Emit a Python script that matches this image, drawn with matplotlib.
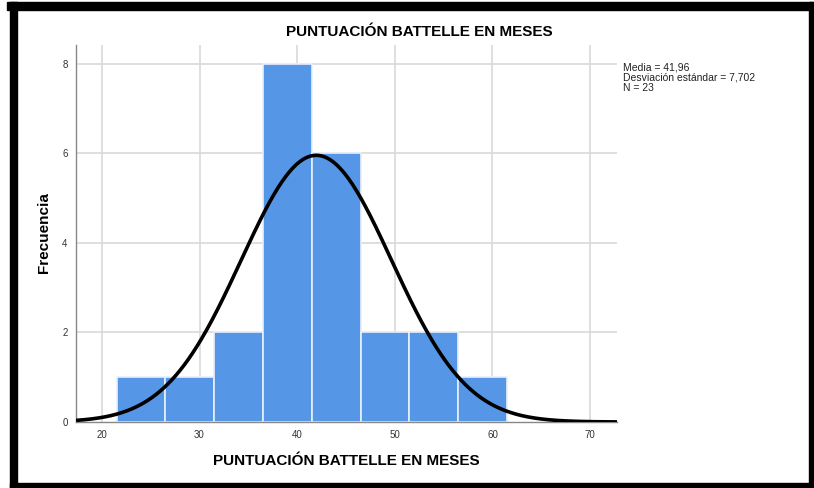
import numpy as np
import matplotlib
matplotlib.use("Agg")
import matplotlib.pyplot as plt
from matplotlib.patches import Rectangle

plt.rcParams['font.family'] = ['Liberation Sans', 'DejaVu Sans']

# Data
bin_edges_left = [21.5, 26.5, 31.5, 36.5, 41.5, 46.5, 51.5, 56.5]
bin_width = 5.0
counts = [1, 1, 2, 8, 6, 2, 2, 1]
mean = 41.96
sd = 7.702
n = 23
x_ticks = [20, 30, 40, 50, 60, 70]
y_ticks = [0, 2, 4, 6, 8]
title = "PUNTUACIÓN BATTELLE EN MESES"
xlabel = "PUNTUACIÓN BATTELLE EN MESES"
ylabel = "Frecuencia"
stats_text = "Media = 41,96\nDesviación estándar = 7,702\nN = 23"

fig = plt.figure(figsize=(8.14, 4.88), dpi=100)
W, H = 814, 488

def fx(px):
    return px / W

def fy(py):
    return 1 - py / H

# black frame
frame_col = "black"
fig.patches.append(Rectangle((fx(7), fy(10)), fx(814 - 7), 8 / H, transform=fig.transFigure,
                             color=frame_col, zorder=0))
fig.patches.append(Rectangle((fx(10), fy(488)), fx(7), fy(2) - fy(488), transform=fig.transFigure,
                             color=frame_col, zorder=0))
fig.patches.append(Rectangle((fx(10), fy(488)), fx(814 - 10), 5 / H, transform=fig.transFigure,
                             color=frame_col, zorder=0))
fig.patches.append(Rectangle((fx(809), fy(488)), fx(4), fy(2) - fy(488), transform=fig.transFigure,
                             color=frame_col, zorder=0))

ax = fig.add_axes([fx(76), fy(422), fx(617 - 76), (422 - 45) / H])
ax.set_xlim(17.35, 72.75)
ax.set_ylim(0, 8.42)

ax.bar(bin_edges_left, counts, width=bin_width, align='edge', color='#5596E6',
       edgecolor='#E8F0FB', linewidth=1.2, zorder=2)

xs = np.linspace(17.35, 72.75, 400)
ys = n * bin_width / (sd * np.sqrt(2 * np.pi)) * np.exp(-0.5 * ((xs - mean) / sd) ** 2)
ax.plot(xs, ys, color='black', lw=2.6, zorder=3, solid_capstyle='butt')

for xt in x_ticks:
    ax.axvline(xt, color='#D9D9D9', lw=1.2, zorder=1)
for yt in y_ticks[1:]:
    ax.axhline(yt, color='#D9D9D9', lw=1.2, zorder=1)

ax.set_xticks(x_ticks)
ax.set_yticks(y_ticks)
ax.tick_params(length=0, labelsize=7, colors='#333333', pad=6)
for s in ['top', 'right']:
    ax.spines[s].set_visible(False)
for s in ['left', 'bottom']:
    ax.spines[s].set_color('#888888')
    ax.spines[s].set_linewidth(1.0)

fig.text(fx(419), fy(32), title, ha='center', va='center', fontsize=11, fontweight='bold')
fig.text(fx(346), fy(461), xlabel, ha='center', va='center', fontsize=11, fontweight='bold')
fig.text(fx(44), fy(233), ylabel, ha='center', va='center', fontsize=11, fontweight='bold',
         rotation=90)
fig.text(fx(623), fy(63), stats_text, ha='left', va='top', fontsize=7.5, linespacing=1.0,
         color='#222222')

fig.savefig("out.png", dpi=100)
